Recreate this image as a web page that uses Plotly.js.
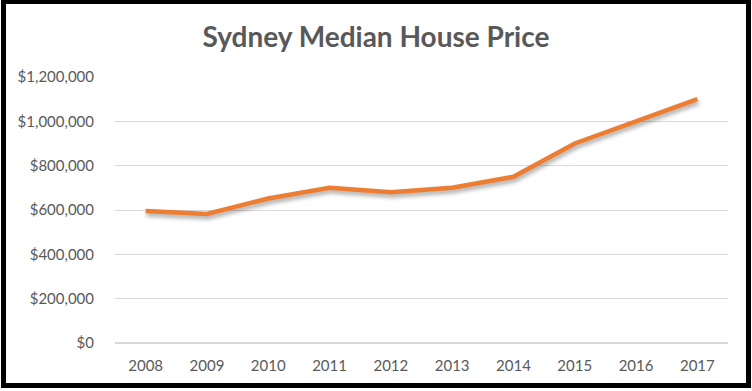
<!DOCTYPE html>
<html>
<head>
<meta charset="utf-8">
<script src="https://cdn.plot.ly/plotly-3.0.1.min.js"></script>
<style>
  html, body { margin: 0; padding: 0; background: #fff; }
  #wrap { position: relative; width: 752px; height: 391px; overflow: hidden; }
  #frame { position: absolute; left: 1px; top: -1px; width: 750px; height: 389px;
           border: 5px solid #000; box-sizing: border-box; pointer-events: none; z-index: 5; }
  #chart { position: absolute; left: 0; top: 0; width: 752px; height: 391px; }
  .scatterlayer .js-line { filter: drop-shadow(1px 3px 2px rgba(0,0,0,0.35)); }
</style>
</head>
<body>
<div id="wrap">
  <div id="chart"></div>
  <div id="frame"></div>
</div>
<script>
const years = ['2008','2009','2010','2011','2012','2013','2014','2015','2016','2017'];
const prices = [595000, 582000, 652000, 700000, 680000, 700000, 750000, 900000, 1000000, 1100000];
const yTicks = [0, 200000, 400000, 600000, 800000, 1000000, 1200000];
const yTickLabels = ['$0','$200,000','$400,000','$600,000','$800,000','$1,000,000','$1,200,000'];

const font = 'Lato, "Open Sans", sans-serif';

Plotly.newPlot('chart', [{
  x: years,
  y: prices,
  type: 'scatter',
  mode: 'lines',
  line: { color: '#ED7D31', width: 4.5, shape: 'linear' },
  hoverinfo: 'skip'
}], {
  width: 752, height: 391,
  margin: { l: 115, r: 24, t: 77, b: 48 },
  paper_bgcolor: '#fff', plot_bgcolor: '#fff',
  showlegend: false,
  title: {
    text: '<b>Sydney Median House Price</b>',
    font: { family: font, size: 28, color: '#595959' },
    x: 0.5, xanchor: 'center', y: 0.905, yanchor: 'middle'
  },
  xaxis: {
    type: 'category',
    range: [-0.5, years.length - 0.5],
    showgrid: false, zeroline: false, showline: false,
    ticks: '', ticklabelstandoff: 12,
    tickfont: { family: font, size: 15, color: '#595959' }
  },
  yaxis: {
    range: [0, 1200000],
    tickvals: yTicks, ticktext: yTickLabels,
    showgrid: true, gridcolor: '#d9d9d9', gridwidth: 1,
    zeroline: true, zerolinecolor: '#d9d9d9', zerolinewidth: 1.5,
    showline: false, ticks: '', ticklabelstandoff: 20,
    tickfont: { family: font, size: 15, color: '#595959' }
  }
}, { displayModeBar: false, staticPlot: true });
</script>
</body>
</html>
